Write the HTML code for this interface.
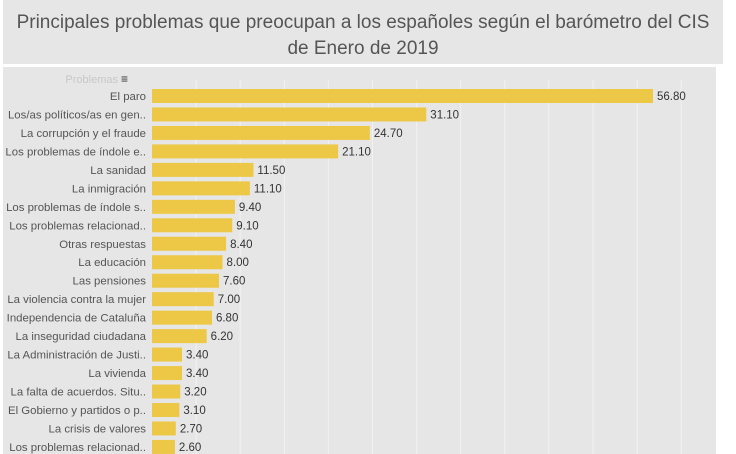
<!DOCTYPE html>
<html><head><meta charset="utf-8"><style>
body{margin:0;width:736px;height:454px;background:#fff;font-family:"Liberation Sans",sans-serif;overflow:hidden;position:relative}
#title{position:absolute;left:3px;top:0;width:720px;height:64px;background:#e6e6e6;color:#555;font-size:19px;text-align:center;line-height:26px;padding-top:10px;box-sizing:border-box}
#panel{position:absolute;left:3px;top:67px;width:713px;height:387px;background:#e6e6e6}
</style></head><body>
<div id="title">Principales problemas que preocupan a los españoles según el barómetro del CIS<br>de Enero de 2019</div>
<div id="panel"></div>
<svg id="chart" width="736" height="454" style="position:absolute;left:0;top:0"></svg>
<script>
const categories=["El paro","Los/as políticos/as en gen..","La corrupción y el fraude","Los problemas de índole e..","La sanidad","La inmigración","Los problemas de índole s..","Los problemas relacionad..","Otras respuestas","La educación","Las pensiones","La violencia contra la mujer","Independencia de Cataluña","La inseguridad ciudadana","La Administración de Justi..","La vivienda","La falta de acuerdos. Situ..","El Gobierno y partidos o p..","La crisis de valores","Los problemas relacionad.."];
const values=[56.8,31.1,24.7,21.1,11.5,11.1,9.4,9.1,8.4,8.0,7.6,7.0,6.8,6.2,3.4,3.4,3.2,3.1,2.7,2.6];
const gridTicks=[5,10,15,20,25,30,35,40,45,50,55,60];
const NS="http://www.w3.org/2000/svg";
const svg=document.getElementById('chart');
const x0=152,k=8.82,y0=96,step=18.47,bh=14;
const xs=v=>x0+v*k, ys=i=>y0+i*step;
function mk(t,a){const e=document.createElementNS(NS,t);for(const n in a)e.setAttribute(n,a[n]);svg.appendChild(e);return e;}
gridTicks.forEach(t=>{const l=mk('line',{x1:xs(t),x2:xs(t),y1:80,y2:454,stroke:'#f2f2f2','stroke-width':1});

});
const h=mk('text',{x:118,y:83,'font-size':11,fill:'#c8c8c8','text-anchor':'end'});h.textContent='Problemas';


const s=mk('text',{x:121,y:83,'font-size':12,fill:'#333'});s.textContent='≡';


categories.forEach((c,i)=>{
const y=ys(i);
const r=mk('rect',{x:x0,y:y-bh/2,width:xs(values[i])-x0,height:bh,fill:'#ecc846'});


const lb=mk('text',{x:146,y:y+4,'font-size':11.4,fill:'#555','text-anchor':'end'});lb.textContent=c;


const vl=mk('text',{x:xs(values[i])+4,y:y+4,'font-size':11.5,fill:'#333'});vl.textContent=values[i].toFixed(2);


});
</script>
</body></html>
